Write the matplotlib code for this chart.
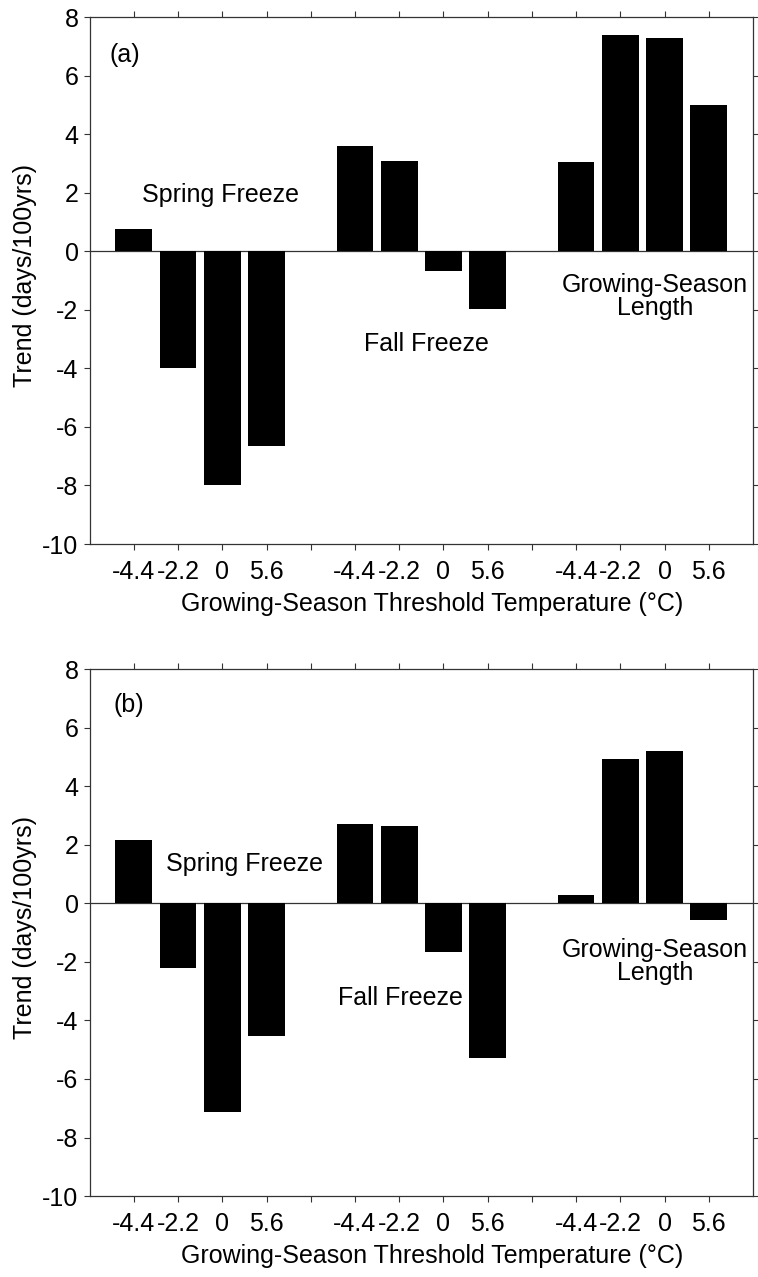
import matplotlib.pyplot as plt

plt.rcParams['font.family'] = ['Liberation Sans', 'DejaVu Sans']
plt.rcParams['font.size'] = 18
plt.rcParams['axes.unicode_minus'] = False

# bar slots: 4 thresholds per group, one empty slot between groups
slots_spring = [1, 2, 3, 4]
slots_fall = [6, 7, 8, 9]
slots_gsl = [11, 12, 13, 14]
tick_pos = list(range(1, 15))
tick_labels = ['-4.4', '-2.2', '0', '5.6', '',
               '-4.4', '-2.2', '0', '5.6', '',
               '-4.4', '-2.2', '0', '5.6']

# trends (days/100yrs), panel (a)
spring_a = [0.75, -4.0, -8.0, -6.65]
fall_a = [3.6, 3.09, -0.68, -1.98]
gsl_a = [3.04, 7.4, 7.3, 5.0]

# trends (days/100yrs), panel (b)
spring_b = [2.18, -2.2, -7.12, -4.52]
fall_b = [2.7, 2.66, -1.67, -5.3]
gsl_b = [0.27, 4.92, 5.2, -0.58]

panels = [
    ('(a)', spring_a, fall_a, gsl_a,
     [(0.46, 6.7), (2.97, 1.94), (7.62, -3.17), (12.79, -1.53)]),
    ('(b)', spring_b, fall_b, gsl_b,
     [(0.53, 6.78), (3.5, 1.36), (7.03, -3.22), (12.79, -1.98)]),
]

fig = plt.figure(figsize=(7.58, 12.77), dpi=100)
axes = [fig.add_axes([0.1182, 0.574, 0.8752, 0.4124]),
        fig.add_axes([0.1182, 0.0634, 0.8752, 0.4125])]

for ax, (tag, spring, fall, gsl, pos) in zip(axes, panels):
    for slots, vals in [(slots_spring, spring), (slots_fall, fall), (slots_gsl, gsl)]:
        ax.bar(slots, vals, width=0.83, color='black', edgecolor='none')
    ax.axhline(0, color='#333333', lw=0.9, zorder=0)

    ax.set_xlim(0, 15)
    ax.set_ylim(-10, 8)
    ax.set_yticks(range(-10, 9, 2))
    ax.set_xticks(tick_pos)
    ax.set_xticklabels(tick_labels)
    ax.tick_params(direction='out', top=True, right=True, labeltop=False,
                   labelright=False, length=4.5, width=0.8, color='#333333')
    ax.tick_params(axis='x', pad=7)
    ax.tick_params(axis='y', pad=3.4)
    for sp in ax.spines.values():
        sp.set_linewidth(0.9)
        sp.set_color('#333333')

    ax.set_ylabel('Trend (days/100yrs)')
    ax.yaxis.set_label_coords(-0.079, 0.51)
    ax.set_xlabel('Growing-Season Threshold Temperature (°C)')
    ax.xaxis.set_label_coords(0.517, -0.091)

    ax.text(pos[0][0], pos[0][1], tag, ha='left', va='center')
    ax.text(pos[1][0], pos[1][1], 'Spring Freeze', ha='center', va='center')
    ax.text(pos[2][0], pos[2][1], 'Fall Freeze', ha='center', va='center')
    ax.text(pos[3][0], pos[3][1], 'Growing-Season\nLength', ha='center',
            va='center', linespacing=0.95)

fig.savefig('out.png', dpi=100)
